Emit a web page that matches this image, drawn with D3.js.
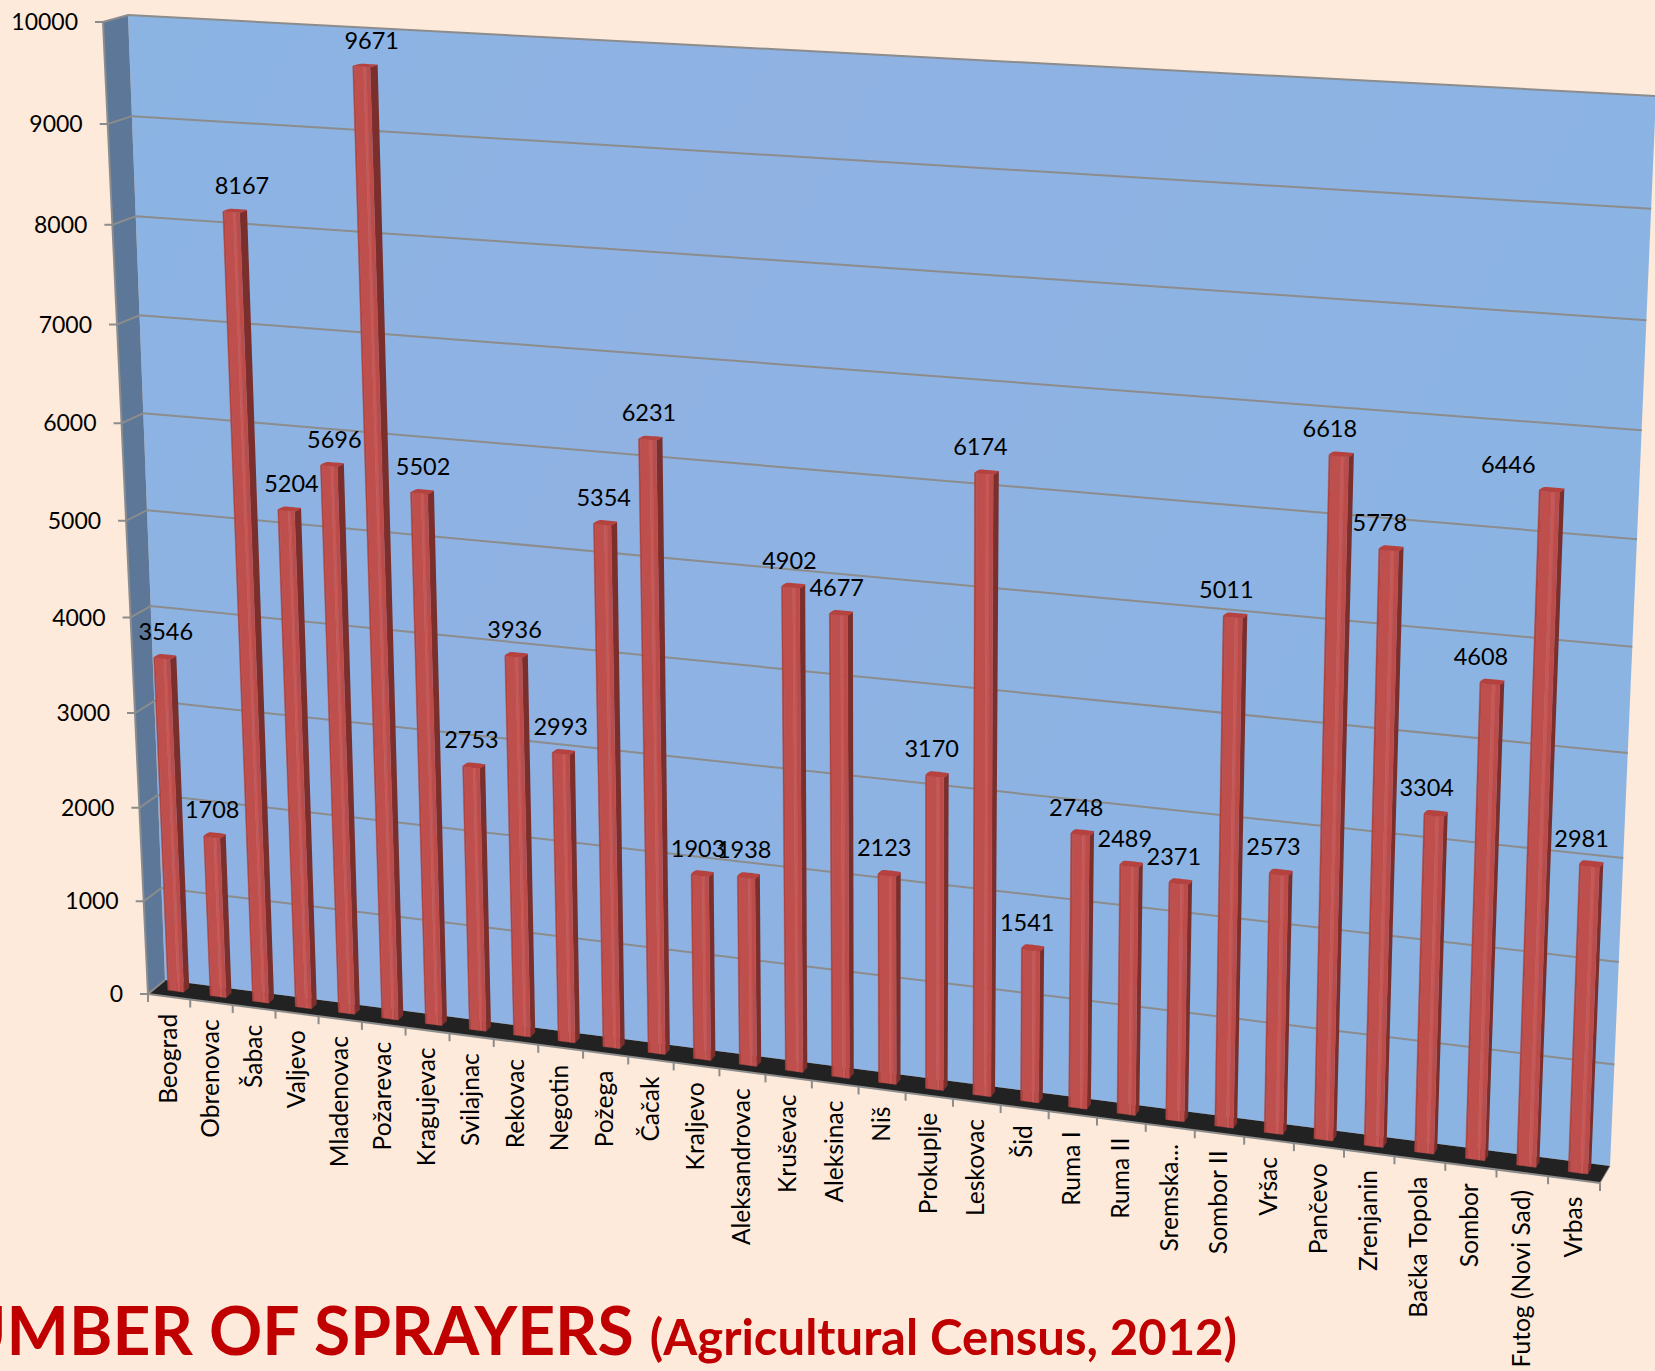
<!DOCTYPE html>
<html lang="en">
<head>
<meta charset="utf-8">
<title>Number of sprayers</title>
<script src="https://d3js.org/d3.v7.min.js"></script>
<style>
body { margin: 0; background: #fdeada; overflow: hidden; }
svg { display: block; }
text { font-family: Lato, "Open Sans", sans-serif; fill: #000; }
.grid { fill: none; stroke: #8c8c8c; stroke-width: 2; }
</style>
</head>
<body>
<script>
var categories = ["Beograd", "Obrenovac", "Šabac", "Valjevo", "Mladenovac", "Požarevac", "Kragujevac", "Svilajnac",
    "Rekovac", "Negotin", "Požega", "Čačak", "Kraljevo", "Aleksandrovac", "Kruševac", "Aleksinac", "Niš", "Prokuplje",
    "Leskovac", "Šid", "Ruma I", "Ruma II", "Sremska...", "Sombor II", "Vršac", "Pančevo", "Zrenjanin", "Bačka Topola",
    "Sombor", "Futog (Novi Sad)", "Vrbas"];
var values = [3546, 1708, 8167, 5204, 5696, 9671, 5502, 2753, 3936, 2993, 5354, 6231, 1903, 1938, 4902, 4677, 2123,
    3170, 6174, 1541, 2748, 2489, 2371, 5011, 2573, 6618, 5778, 3304, 4608, 6446, 2981];
var yTicks = [0, 1000, 2000, 3000, 4000, 5000, 6000, 7000, 8000, 9000, 10000];

var width = 1655, height = 1371;

var svg = d3.select("body").append("svg").attr("width", width).attr("height", height);

// the chart box as it was photographed: corners of the front and back planes
// order is bottom left, bottom right, top right, top left
var frontQuad = [[148, 994], [1600, 1183], [1638, 106], [103, 22]];
var backQuad = [[165, 980], [1610, 1166], [1656, 96], [128, 15]];

// homography from the unit square to a quad
function quadMap(q) {
    var dx1 = q[1][0] - q[2][0], dx2 = q[3][0] - q[2][0], sx = q[0][0] - q[1][0] + q[2][0] - q[3][0];
    var dy1 = q[1][1] - q[2][1], dy2 = q[3][1] - q[2][1], sy = q[0][1] - q[1][1] + q[2][1] - q[3][1];
    var det = dx1 * dy2 - dx2 * dy1;
    var g = (sx * dy2 - dx2 * sy) / det, h = (dx1 * sy - sx * dy1) / det;
    var a = q[1][0] - q[0][0] + g * q[1][0], b = q[3][0] - q[0][0] + h * q[3][0];
    var d = q[1][1] - q[0][1] + g * q[1][1], e = q[3][1] - q[0][1] + h * q[3][1];
    return function(u, t) {
        var w = g * u + h * t + 1;
        return [(a * u + b * t + q[0][0]) / w, (d * u + e * t + q[0][1]) / w];
    };
}
var mapFront = quadMap(frontQuad), mapBack = quadMap(backQuad);

// u across the categories, t up the values, z from the front (0) to the back (1)
function project(u, t, z) {
    var f = mapFront(u, t), b = mapBack(u, t);
    return [f[0] + (b[0] - f[0]) * z, f[1] + (b[1] - f[1]) * z];
}

var xScale = d3.scaleBand().domain(categories).range([0, 1]).paddingInner(0.62).paddingOuter(0.31);
var yScale = d3.scaleLinear().domain([0, 10000]).range([0, 1]);
var stepOuter = 1 / categories.length;

var line = d3.line();
var polygon = function(pts) { return line(pts) + "Z"; };
var rounded = d3.line().curve(d3.curveCardinalClosed.tension(0.55));

var defs = svg.append("defs");
var wallGrad = defs.append("linearGradient").attr("id", "wall")
    .attr("x1", 0).attr("y1", 0).attr("x2", 1).attr("y2", 0.4);
wallGrad.append("stop").attr("offset", "0%").attr("stop-color", "#8bb4e3");
wallGrad.append("stop").attr("offset", "40%").attr("stop-color", "#8fb2e3");
wallGrad.append("stop").attr("offset", "100%").attr("stop-color", "#8bb4e3");

// walls and floor
svg.append("path").attr("fill", "url(#wall)")
    .attr("d", polygon([project(0, 0, 1), project(1, 0, 1), project(1, 1, 1), project(0, 1, 1)]));
svg.append("path").attr("fill", "#5d7798")
    .attr("d", polygon([project(0, 0, 0), project(0, 0, 1), project(0, 1, 1), project(0, 1, 0)]));
svg.append("path").attr("fill", "#222222")
    .attr("d", polygon([project(0, 0, 0), project(1, 0, 0), project(1, 0, 1), project(0, 0, 1)]));

// grid lines run along the side wall, then across the back wall
yTicks.forEach(function(tick) {
    var t = yScale(tick);
    var p0 = project(0, t, 0);
    svg.append("path").attr("class", "grid")
        .attr("d", line([[p0[0] - 8, p0[1]], p0, project(0, t, 1), tick > 0 ? project(1, t, 1) : project(0, t, 1)]));
    svg.append("text")
        .attr("x", p0[0] - 25).attr("y", p0[1])
        .attr("dy", "0.35em")
        .attr("text-anchor", "end")
        .style("font-size", "23px")
        .text(tick);
});

// side wall front edge and the category axis
svg.append("path").attr("class", "grid").attr("d", line([project(0, 0, 0), project(0, 1, 0)]));
svg.append("path").attr("class", "grid").attr("d", line([project(0, 0, 0), project(1, 0, 0)]));
svg.append("path").attr("fill", "none").attr("stroke", "#8c8c8c").attr("stroke-width", 1)
    .attr("d", line([project(1, 0, 0), project(1, 0, 1)]));
d3.range(categories.length + 1).forEach(function(i) {
    var p = project(i * stepOuter, 0, 0);
    svg.append("line").attr("x1", p[0]).attr("x2", p[0]).attr("y1", p[1]).attr("y2", p[1] + 8)
        .attr("stroke", "#8c8c8c").attr("stroke-width", 2);
});

// bars: strips for the front face, dark side, rounded cap
var zFront = 0.4, zBack = 0.72;
var strips = [[0, 0.1, "#ad4542"], [0.1, 0.62, "#bf4f4c"], [0.62, 0.78, "#c75855"], [0.78, 1, "#bb4c49"]];

var bars = svg.append("g");
categories.forEach(function(name, i) {
    var x0 = xScale(name), x1 = x0 + xScale.bandwidth();
    var t = yScale(values[i]);
    var g = bars.append("g");

    g.append("path").attr("fill", "#7b2f2d")
        .attr("d", polygon([project(x1, 0, zFront), project(x1, 0, zBack), project(x1, t, zBack), project(x1, t, zFront)]));

    strips.forEach(function(s) {
        var a = x0 + (x1 - x0) * s[0], b = x0 + (x1 - x0) * s[1];
        g.append("path").attr("fill", s[2]).attr("stroke", s[2]).attr("stroke-width", 0.4)
            .attr("d", polygon([project(a, 0, zFront), project(b, 0, zFront), project(b, t, zFront), project(a, t, zFront)]));
    });

    g.append("path").attr("fill", "#b5423f")
        .attr("d", rounded([project(x0, t, zFront), project(x1, t, zFront), project(x1, t, zBack), project(x0, t, zBack)]));
});

// value labels sit above the bars, drifting sideways across the chart like the original
function labelShift(name, value, px) {
    var dx = -5 - 0.0115 * px + 0.002 * value + px / 1500 * (17 - 0.0033 * value);
    if (name === "Futog (Novi Sad)") dx -= 29;
    return dx;
}
categories.forEach(function(name, i) {
    var barTop = project(xScale(name) + xScale.bandwidth() / 2, yScale(values[i]), (zFront + zBack) / 2);
    svg.append("text")
        .attr("x", barTop[0] + labelShift(name, values[i], barTop[0]))
        .attr("y", barTop[1] - 17)
        .attr("text-anchor", "middle")
        .style("font-size", "23.5px")
        .text(values[i]);
});

// category labels
categories.forEach(function(name, i) {
    var p = project((i + 0.5) * stepOuter, 0, 0);
    svg.append("text")
        .attr("transform", "translate(" + (p[0] - 1) + "," + (p[1] + 17) + ") rotate(-90)")
        .attr("dy", "0.35em")
        .attr("text-anchor", "end")
        .style("font-size", "24.6px")
        .text(name);
});

// title runs off the left edge of the picture
var title = svg.append("text")
    .attr("x", 1237).attr("y", 1355)
    .attr("text-anchor", "end")
    .style("font-weight", "bold")
    .style("fill", "#c00000");
title.append("tspan").style("font-size", "66px").style("fill", "#c00000").text("NUMBER OF SPRAYERS ");
title.append("tspan").style("font-size", "49px").style("fill", "#c00000").text("(Agricultural Census, 2012)");
</script>
</body>
</html>
